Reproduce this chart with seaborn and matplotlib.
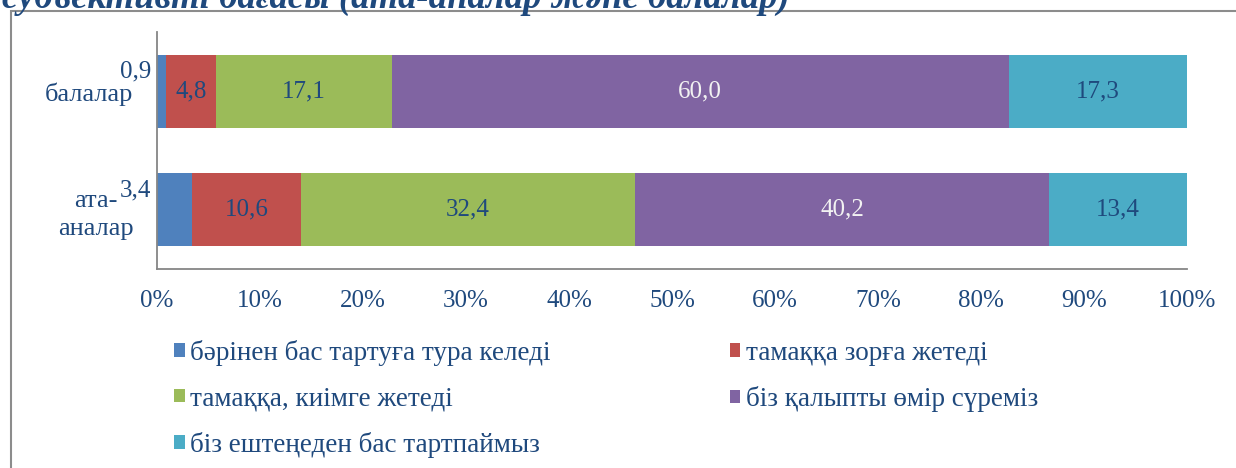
import matplotlib
matplotlib.use("Agg")
import matplotlib.pyplot as plt
from matplotlib.patches import Patch, Rectangle
import seaborn as sns
import pandas as pd
import numpy as np

# data
groups = ["балалар", "ата-\nаналар"]
answers = [
    "бәрінен бас тартуға тура келеді",
    "тамаққа зорға жетеді",
    "тамаққа, киімге жетеді",
    "біз қалыпты өмір сүреміз",
    "біз ештеңеден бас тартпаймыз",
]
children = [0.9, 4.8, 17.1, 60.0, 17.3]
parents = [3.4, 10.6, 32.4, 40.2, 13.4]
colors = ["#4F81BD", "#C0504D", "#9BBB59", "#8064A2", "#4BACC6"]
label_colors = ["#1F497D", "#1F497D", "#1F497D", "#F2F2F2", "#1F497D"]
title = "субъективті бағасы (ата-аналар және балалар)"

sns.set_style("white")
plt.rcParams["font.family"] = ["Liberation Serif", "DejaVu Serif"]

text_col = "#1F497D"
axis_col = "#868686"

# build a long table with cumulative percentages (100% stacked)
rows = []
for g, vals in zip(groups, [children, parents]):
    vals = np.array(vals)
    pct = vals / vals.sum() * 100
    cum = np.cumsum(pct)
    for a, v, p, c in zip(answers, vals, pct, cum):
        rows.append({"group": g, "answer": a, "value": v, "pct": p, "cum": c})
df = pd.DataFrame(rows)

fig = plt.figure(figsize=(12.36, 4.68), dpi=100)
ax = fig.add_axes([157 / 1236, 1 - 269 / 468, 1030 / 1236, 237 / 468])

# draw from the last segment backwards so the earlier ones overlay
for a, c in reversed(list(zip(answers, colors))):
    sub = df[df["answer"] == a]
    sns.barplot(data=sub, x="cum", y="group", order=groups, color=c,
                width=0.62, linewidth=0, saturation=1, orient="h", ax=ax)

# data labels
for gi, g in enumerate(groups):
    sub = df[df["group"] == g].reset_index(drop=True)
    for i, r in sub.iterrows():
        txt = f"{r['value']:.1f}".replace(".", ",")
        if i == 0:
            ax.text(-0.6, gi - 0.165, txt, ha="right", va="center",
                    fontsize=18, color=text_col, clip_on=False)
        else:
            ax.text(r["cum"] - r["pct"] / 2, gi, txt, ha="center", va="center",
                    fontsize=18, color=label_colors[i])

ax.set_xlim(0, 100)
ax.set_ylim(1.5, -0.5)
ax.set_xticks(range(0, 101, 10))
ax.set_xticklabels([f"{v}%" for v in range(0, 101, 10)])
ax.set_yticks([0, 1])
ax.set_yticklabels(groups)
ax.set_yticks([-0.5, 0.5, 1.5], minor=True)
ax.set_xlabel("")
ax.set_ylabel("")

ax.tick_params(axis="x", direction="out", length=7, width=1.3, color=axis_col,
               labelsize=18, labelcolor=text_col, pad=8)
ax.tick_params(axis="y", which="major", length=0, labelsize=19,
               labelcolor=text_col, pad=17)
ax.tick_params(axis="y", which="minor", direction="out", length=7, width=1.3,
               color=axis_col)
for lbl in ax.get_yticklabels():
    lbl.set_multialignment("center")
    lbl.set_linespacing(1.35)

for s in ["top", "right"]:
    ax.spines[s].set_visible(False)
for s in ["left", "bottom"]:
    ax.spines[s].set_color(axis_col)
    ax.spines[s].set_linewidth(1.3)

# legend, filled row by row like the reference
handles = [Patch(facecolor=c, edgecolor="none") for c in colors]
order = [0, 2, 4, 1, 3]
fig.legend([handles[i] for i in order], [answers[i] for i in order],
           loc="upper left", bbox_to_anchor=(174 / 1236, 1 - 340 / 468),
           ncol=2, frameon=False, fontsize=19.5, labelcolor=text_col,
           handlelength=0.4, handleheight=0.4, handletextpad=0.2,
           columnspacing=6.6, labelspacing=0.75, borderpad=0, borderaxespad=0)

# outer frame and the cut-off title
fig.add_artist(Rectangle((11 / 1236, -0.2), 1.3, 1.2 - 11 / 468,
                         transform=fig.transFigure, fill=False,
                         edgecolor="#8C8C8C", linewidth=1.5))
fig.text(790 / 1236, 1 - 7.5 / 468, title, ha="right", va="baseline",
         fontsize=26.5, fontweight="bold", fontstyle="italic", color=text_col)

fig.savefig("out.png", dpi=100)
